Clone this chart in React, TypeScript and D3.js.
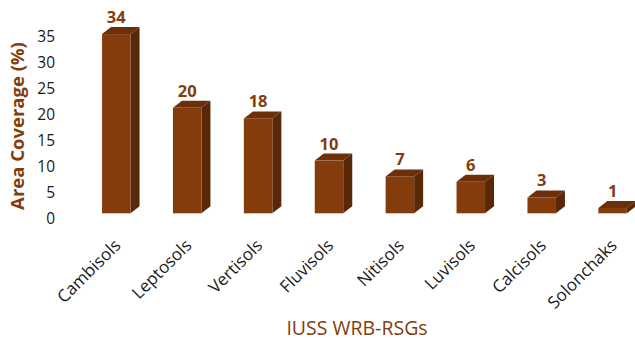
import React from "react";
import * as d3 from "d3";

const categories = ["Cambisols", "Leptosols", "Vertisols", "Fluvisols", "Nitisols", "Luvisols", "Calcisols", "Solonchaks"];
const values = [34, 20, 18, 10, 7, 6, 3, 1];
const yTicks = [0, 5, 10, 15, 20, 25, 30, 35];

const W = 635;
const H = 342;
const BROWN = "#843C0C";
const SIDE = "#582808";
const TOP = "#6B300A";
const FONT = "'Open Sans', sans-serif";

export default function App() {
  const x = d3.scalePoint<string>().domain(categories).range([116.3, 612.6]);
  const y = d3.scaleLinear().domain([0, 35]).range([213.3, 28.8]);
  const wall = d3.scaleLinear().domain([0, 35]).range([218, 36]);
  const bw = 28.5;
  const dx = 9;
  const dy = 7;
  const bottom = y(0);

  return (
    <svg width={W} height={H} style={{ position: "absolute", left: 0, top: 0 }}>
      <rect width={W} height={H} fill="#fff" />
      {yTicks.map((t) => (
        <text key={t} x={55} y={wall(t)} dy="0.36em" textAnchor="end" fontFamily={FONT} fontSize={15.5} fill="#1a1a1a">
          {t}
        </text>
      ))}
      <text
        transform={`translate(18,${126}) rotate(-90)`}
        textAnchor="middle"
        dy="0.35em"
        fontFamily={FONT}
        fontWeight="bold"
        fontSize={18.5}
        fill={BROWN}
      >
        Area Coverage (%)
      </text>
      {categories.map((c, i) => {
        const cx = x(c) as number;
        const x0 = cx - bw / 2;
        const x1 = cx + bw / 2;
        const top = y(values[i]);
        const topFace = d3.line()([[x0, top], [x0 + dx, top - dy], [x1 + dx, top - dy], [x1, top]]) + "Z";
        const sideFace = d3.line()([[x1, top], [x1 + dx, top - dy], [x1 + dx, bottom - dy], [x1, bottom]]) + "Z";
        return (
          <g key={c}>
            <path d={sideFace} fill={SIDE} />
            <path d={topFace} fill={TOP} />
            <rect x={x0} y={top} width={bw} height={bottom - top} fill={BROWN} />
            <text x={cx} y={top - 11} textAnchor="middle" fontFamily={FONT} fontWeight="bold" fontSize={16.5} fill={BROWN}>
              {values[i]}
            </text>
            <text
              transform={`translate(${cx - 3},${238}) rotate(-45)`}
              textAnchor="end"
              dy="0.7em"
              fontFamily={FONT}
              fontSize={17}
              fill="#1a1a1a"
            >
              {c}
            </text>
          </g>
        );
      })}
      <text x={357} y={335} textAnchor="middle" fontFamily={FONT} fontSize={19.5} fill={BROWN}>
        IUSS WRB-RSGs
      </text>
    </svg>
  );
}
